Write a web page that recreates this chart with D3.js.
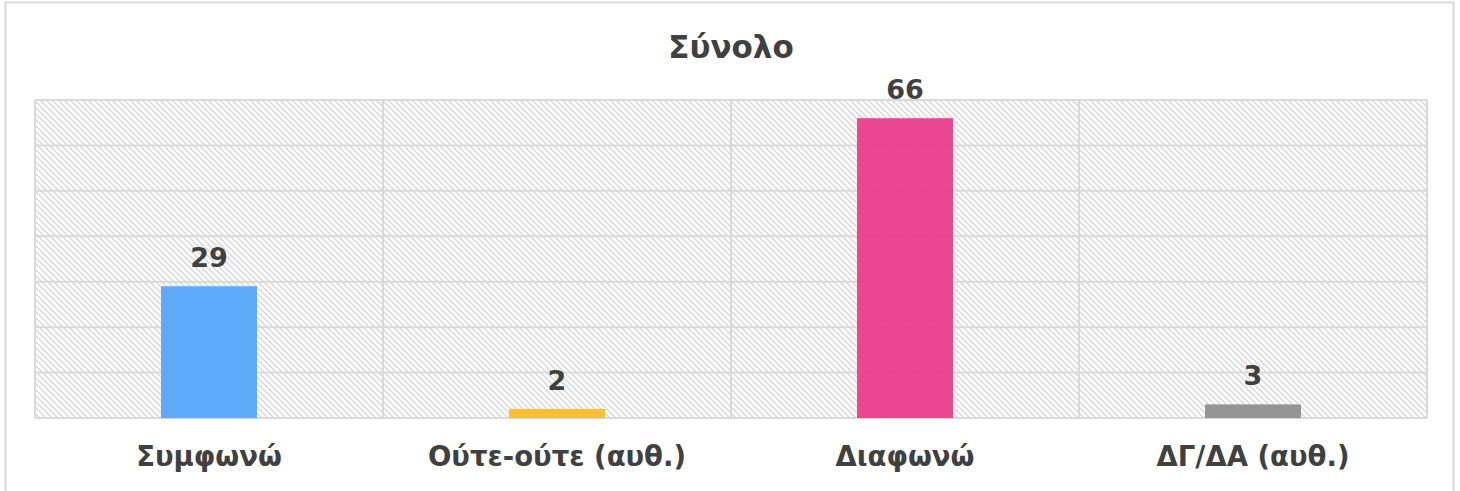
<!DOCTYPE html>
<html>
<head>
<meta charset="utf-8">
<script src="https://cdn.jsdelivr.net/npm/d3@7"></script>
<style>
	body { margin: 0; background: #fff; }
	text { font-family: "DejaVu Sans", Verdana, sans-serif; font-weight: bold; fill: #404040; }
</style>
</head>
<body>
<svg id="chart" width="1460" height="491"></svg>
<script>
var categories = ["Συμφωνώ", "Ούτε-ούτε (αυθ.)", "Διαφωνώ", "ΔΓ/ΔΑ (αυθ.)"];
var values = [29, 2, 66, 3];
var colors = ["#56a7fb", "#fbbd2a", "#ec3d8e", "#8f8f8f"];
var yTicks = [0, 10, 20, 30, 40, 50, 60, 70];
var title = "Σύνολο";

var margin = {left: 35, right: 33, top: 100, bottom: 73};
var W = 1460, H = 491;

var svg = d3.select("#chart");

// hatch pattern for plot background
var defs = svg.append("defs");
var pat = defs.append("pattern")
	.attr("id", "hatch")
	.attr("patternUnits", "userSpaceOnUse")
	.attr("width", 6)
	.attr("height", 6);
pat.append("rect").attr("width", 6).attr("height", 6).attr("fill", "#fff");
pat.append("path")
	.attr("d", "M-1,-1 L7,7 M-1,5 L1,7 M5,-1 L7,1")
	.attr("stroke", "#d6d6d6")
	.attr("stroke-width", 1.3);

// outer border
svg.append("rect")
	.attr("x", 5.5).attr("y", 2.5)
	.attr("width", 1448).attr("height", 490)
	.attr("fill", "#fff")
	.attr("stroke", "#d9d9d9")
	.attr("stroke-width", 2);

var x = d3.scaleBand()
	.domain(categories)
	.range([margin.left, W - margin.right])
	.paddingInner(0)
	.paddingOuter(0);

var y = d3.scaleLinear()
	.domain([0, 70])
	.range([H - margin.bottom, margin.top]);

// plot background
svg.append("rect")
	.attr("x", margin.left)
	.attr("y", margin.top)
	.attr("width", W - margin.left - margin.right)
	.attr("height", H - margin.top - margin.bottom)
	.attr("fill", "url(#hatch)");

// horizontal gridlines
svg.append("g").selectAll("line")
	.data(yTicks)
	.enter()
	.append("line")
	.attr("x1", margin.left)
	.attr("x2", W - margin.right)
	.attr("y1", function(d) {return y(d);})
	.attr("y2", function(d) {return y(d);})
	.attr("stroke", "#d9d9d9")
	.attr("stroke-width", 2);

// vertical gridlines at category boundaries
var bounds = categories.map(function(c) {return x(c);}).concat([x.range()[1]]);
svg.append("g").selectAll("line")
	.data(bounds)
	.enter()
	.append("line")
	.attr("x1", function(d) {return d;})
	.attr("x2", function(d) {return d;})
	.attr("y1", margin.top)
	.attr("y2", H - margin.bottom)
	.attr("stroke", "#d9d9d9")
	.attr("stroke-width", 2);

var barW = 96;

// bars
svg.append("g").selectAll("rect")
	.data(values)
	.enter()
	.append("rect")
	.attr("x", function(d, i) {return x(categories[i]) + x.bandwidth()/2 - barW/2;})
	.attr("y", function(d) {return y(d);})
	.attr("width", barW)
	.attr("height", function(d) {return y(0) - y(d);})
	.attr("fill", function(d, i) {return colors[i];})
	.attr("opacity", 0.95);

// value labels
svg.append("g").selectAll("text")
	.data(values)
	.enter()
	.append("text")
	.attr("x", function(d, i) {return x(categories[i]) + x.bandwidth()/2;})
	.attr("y", function(d) {return y(d) - 19;})
	.attr("text-anchor", "middle")
	.style("font-size", "27px")
	.text(function(d) {return d;});

// category labels
svg.append("g").selectAll("text")
	.data(categories)
	.enter()
	.append("text")
	.attr("x", function(d) {return x(d) + x.bandwidth()/2;})
	.attr("y", 466)
	.attr("text-anchor", "middle")
	.style("font-size", "27.5px")
	.text(function(d) {return d;});

// title
svg.append("text")
	.attr("x", (margin.left + W - margin.right)/2)
	.attr("y", 58)
	.attr("text-anchor", "middle")
	.style("font-size", "31px")
	.text(title);
</script>
</body>
</html>
